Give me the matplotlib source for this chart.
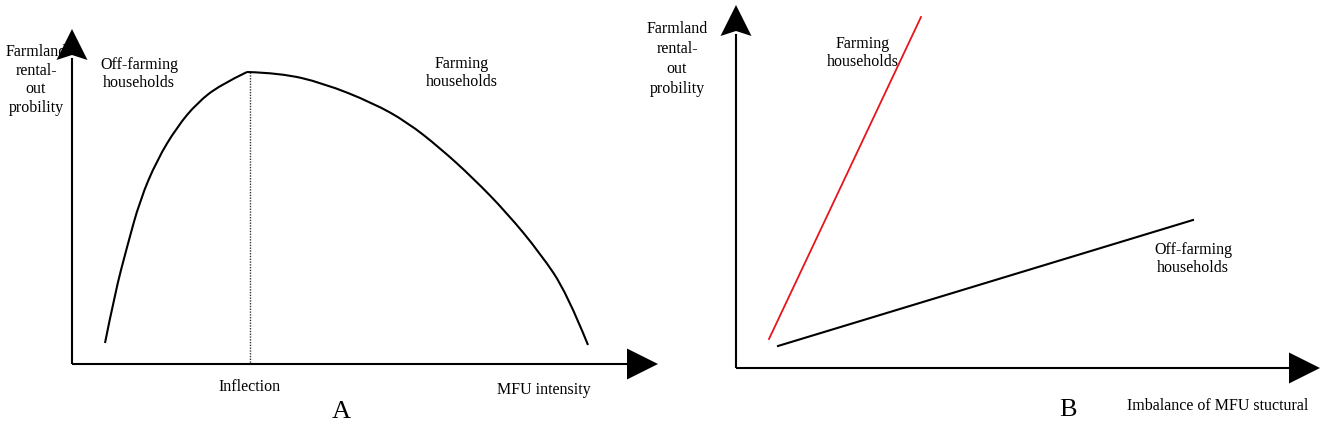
import numpy as np
import matplotlib.pyplot as plt
from matplotlib.path import Path
from matplotlib.patches import PathPatch

# canvas is laid out in pixel units (y down) to match the 1325x430 figure
W, H = 1325, 430

# panel A: inverted-U curve of rental-out probability vs MFU intensity
left_x = [105, 115, 127, 140, 157, 177, 197, 220, 247]
left_y = [343, 293, 247, 200, 160, 127, 103, 85, 72]
right_x = [247, 280, 323, 373, 407, 440, 473, 507, 540, 567, 588]
right_y = [72, 73, 83, 103, 122, 148, 178, 213, 253, 293, 345]
inflection_x = 250

# panel B: two straight lines
farming_b_x = [769, 921]
farming_b_y = [339, 17]
offfarm_b_x = [778, 1193]
offfarm_b_y = [346, 220]

ylabel_text = "Farmland\nrental-\nout\nprobility"

plt.rcParams['font.family'] = ['Liberation Serif', 'DejaVu Serif']
fs = 11.5

fig = plt.figure(figsize=(W / 100, H / 100), dpi=100)
ax = fig.add_axes([0, 0, 1, 1])
ax.set_xlim(0, W)
ax.set_ylim(H, 0)
ax.axis('off')


def axis_arrow(x0, y0, x1, y1, head_len=31, head_w=15.5, notch=0):
    d = np.array([x1 - x0, y1 - y0], dtype=float)
    d /= np.hypot(*d)
    n = np.array([-d[1], d[0]])
    tip = np.array([x1, y1], dtype=float)
    base = tip - d * head_len
    ax.plot([x0, base[0] + d[0] * 2], [y0, base[1] + d[1] * 2], color='black', lw=1.5,
            solid_capstyle='butt', zorder=3)
    pts = np.array([tip, base + n * head_w, base + d * notch, base - n * head_w])
    ax.fill(pts[:, 0], pts[:, 1], color='black', lw=0, zorder=4)


def smooth_curve(xs, ys, **kw):
    # quadratic bezier through the read points (points act as control points)
    p = np.column_stack([xs, ys]).astype(float)
    verts = [p[0]]
    codes = [Path.MOVETO]
    for i in range(1, len(p) - 2):
        verts += [p[i], (p[i] + p[i + 1]) / 2]
        codes += [Path.CURVE3, Path.CURVE3]
    verts += [p[-2], p[-1]]
    codes += [Path.CURVE3, Path.CURVE3]
    ax.add_patch(PathPatch(Path(verts, codes), fill=False, **kw))


# ---- panel A ----
axis_arrow(72, 364, 72, 29, notch=5)
axis_arrow(72, 364, 658, 364)
smooth_curve(left_x, left_y, edgecolor='black', lw=1.5, zorder=2)
smooth_curve(right_x, right_y, edgecolor='black', lw=1.5, zorder=2)
ax.plot([inflection_x, inflection_x], [72, 364], color='#333333', lw=1.0,
        linestyle=(0, (1, 1)), zorder=1)

ax.text(36, 80, ylabel_text, ha='center', va='center', fontsize=fs, linespacing=1.2, zorder=2)
ax.text(139, 74, "Off-farming\nhouseholds", ha='center', va='center', fontsize=fs, linespacing=1.2)
ax.text(462, 73, "Farming\nhouseholds", ha='center', va='center', fontsize=fs, linespacing=1.2)
ax.text(250, 387, "Inflection", ha='center', va='center', fontsize=fs)
ax.text(544, 390, "MFU intensity", ha='center', va='center', fontsize=fs)
ax.text(341, 412, "A", ha='center', va='center', fontsize=19)

# ---- panel B ----
axis_arrow(736, 368, 736, 5, notch=5)
axis_arrow(736, 368, 1320, 368)
ax.plot(farming_b_x, farming_b_y, color='#e8141c', lw=1.3, zorder=2)
ax.plot(offfarm_b_x, offfarm_b_y, color='black', lw=1.5, zorder=2)

ax.text(677, 59, ylabel_text, ha='center', va='center', fontsize=fs, linespacing=1.35)
ax.text(863, 53, "Farming\nhouseholds", ha='center', va='center', fontsize=fs, linespacing=1.25)
ax.text(1193, 259, "Off-farming\nhouseholds", ha='center', va='center', fontsize=fs, linespacing=1.2)
ax.text(1218, 406, "Imbalance of MFU stuctural", ha='center', va='center', fontsize=fs)
ax.text(1068, 410, "B", ha='center', va='center', fontsize=19)

fig.savefig('out.png', dpi=100)
